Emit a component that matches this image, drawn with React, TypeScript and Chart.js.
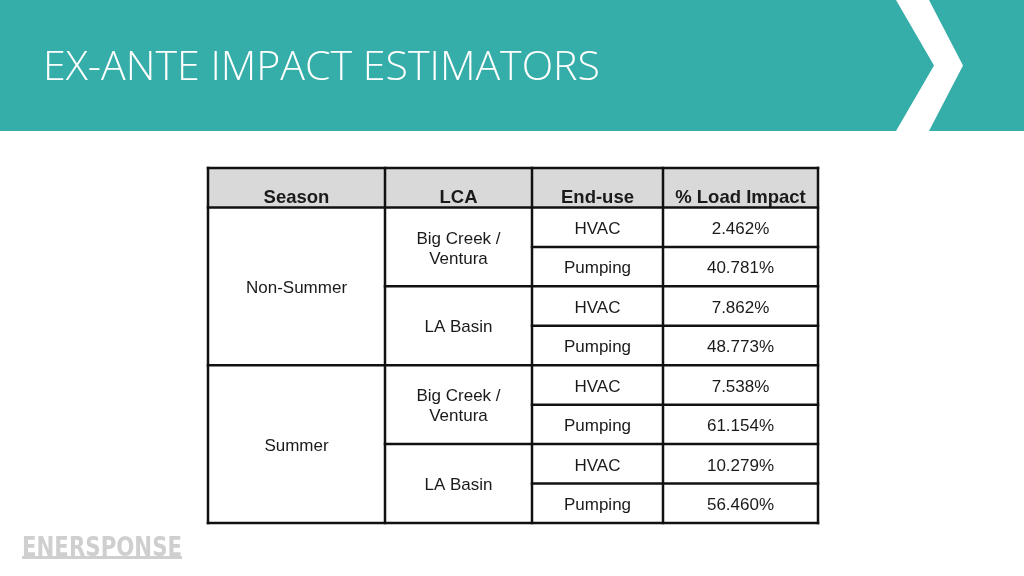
import React, { useEffect, useRef } from "react";
import { Chart, registerables } from "chart.js";

Chart.register(...registerables);

// ---- data ----
const title = "EX-ANTE IMPACT ESTIMATORS";
const logoText = "ENERSPONSE";
const headers = ["Season", "LCA", "End-use", "% Load Impact"];
const seasons = ["Non-Summer", "Summer"];
const lcas = [["Big Creek /", "Ventura"], ["LA Basin"]];
const endUses = ["HVAC", "Pumping"];
const loadImpact = [2.462, 40.781, 7.862, 48.773, 7.538, 61.154, 10.279, 56.46];

// ---- layout (scale units) ----
const COL_EDGES = [0, 177, 324, 455, 610];
const ROWS = 1 + loadImpact.length;

const TEAL = "#35ADA8";
const LINE = "#111111";
const TEXT = "#1a1a1a";
const FONT = "'Liberation Sans', Arial, sans-serif";
const TEXT_DY = 2;

const tablePlugin = {
  id: "tablePlugin",
  beforeDraw(chart: any) {
    const ctx: CanvasRenderingContext2D = chart.ctx;
    const W = chart.width;
    ctx.save();
    ctx.fillStyle = "#ffffff";
    ctx.fillRect(0, 0, W, chart.height);
    // banner
    ctx.fillStyle = TEAL;
    ctx.fillRect(0, 0, W, 131);
    // chevron
    ctx.fillStyle = "#ffffff";
    ctx.beginPath();
    ctx.moveTo(896, 0);
    ctx.lineTo(929, 0);
    ctx.lineTo(963, 65.5);
    ctx.lineTo(929, 131);
    ctx.lineTo(896, 131);
    ctx.lineTo(934, 65.5);
    ctx.closePath();
    ctx.fill();
    // title
    ctx.fillStyle = "#ffffff";
    ctx.font = "300 40px 'Open Sans', sans-serif";
    ctx.textBaseline = "alphabetic";
    ctx.textAlign = "left";
    const tw = ctx.measureText(title).width;
    ctx.save();
    ctx.translate(43, 80);
    ctx.scale(557 / tw, 1);
    ctx.fillText(title, 0, 0);
    ctx.restore();
    // logo
    ctx.fillStyle = "#cfcfcf";
    ctx.font = "bold 28px 'DejaVu Sans Condensed', sans-serif";
    const lw = ctx.measureText(logoText).width;
    ctx.save();
    ctx.translate(22, 556);
    ctx.scale(160 / lw, 0.95);
    ctx.fillText(logoText, 0, 0);
    ctx.restore();
    ctx.fillRect(22, 556, 160, 3);
    ctx.restore();
  },
  afterDatasetsDraw(chart: any) {
    const ctx: CanvasRenderingContext2D = chart.ctx;
    const xs = chart.scales.x;
    const ys = chart.scales.y;
    const X = (v: number) => xs.getPixelForValue(v);
    const Y = (v: number) => ys.getPixelForValue(v);
    const colC = (i: number) => X((COL_EDGES[i] + COL_EDGES[i + 1]) / 2);
    ctx.save();
    // header background
    ctx.fillStyle = "#d9d9d9";
    ctx.fillRect(X(COL_EDGES[0]), Y(0), X(COL_EDGES[4]) - X(COL_EDGES[0]), Y(1) - Y(0));

    // text
    ctx.fillStyle = TEXT;
    ctx.textAlign = "center";
    ctx.textBaseline = "middle";
    ctx.font = `bold 18.5px ${FONT}`;
    headers.forEach((h, i) => ctx.fillText(h, colC(i), Y(0.72) + TEXT_DY));

    ctx.font = `17px ${FONT}`;
    const n = loadImpact.length;
    const perSeason = n / seasons.length;
    seasons.forEach((s, si) => {
      ctx.fillText(s, colC(0), Y(1 + si * perSeason + perSeason / 2) + TEXT_DY);
    });
    const perLca = 2;
    for (let g = 0; g < n / perLca; g++) {
      const lines = lcas[g % lcas.length];
      const cy = Y(1 + g * perLca + perLca / 2) + TEXT_DY;
      const lh = 20;
      lines.forEach((ln, li) => {
        ctx.fillText(ln, colC(1), cy + (li - (lines.length - 1) / 2) * lh);
      });
    }
    loadImpact.forEach((v, i) => {
      const cy = Y(1 + i + 0.5) + TEXT_DY;
      ctx.fillText(endUses[i % endUses.length], colC(2), cy);
      ctx.fillText(v.toFixed(3) + "%", colC(3), cy);
    });

    // grid lines
    ctx.strokeStyle = LINE;
    ctx.lineWidth = 2.5;
    ctx.lineCap = "square";
    const hline = (r: number, c0: number, c1: number) => {
      ctx.beginPath();
      ctx.moveTo(X(COL_EDGES[c0]), Y(r));
      ctx.lineTo(X(COL_EDGES[c1]), Y(r));
      ctx.stroke();
    };
    const vline = (c: number) => {
      ctx.beginPath();
      ctx.moveTo(X(COL_EDGES[c]), Y(0));
      ctx.lineTo(X(COL_EDGES[c]), Y(ROWS));
      ctx.stroke();
    };
    hline(0, 0, 4);
    hline(1, 0, 4);
    hline(ROWS, 0, 4);
    for (let r = 2; r < ROWS; r++) {
      if ((r - 1) % perSeason === 0) hline(r, 0, 4);
      else if ((r - 1) % perLca === 0) hline(r, 1, 4);
      else hline(r, 2, 4);
    }
    for (let c = 0; c < COL_EDGES.length; c++) vline(c);
    ctx.restore();
  },
};

export default function App() {
  const ref = useRef<HTMLCanvasElement | null>(null);
  useEffect(() => {
    document.body.style.margin = "0";
    const canvas = ref.current;
    if (!canvas) return;
    const points = loadImpact.map((v, i) => ({ x: (COL_EDGES[3] + COL_EDGES[4]) / 2, y: 1.5 + i }));
    const chart = new Chart(canvas, {
      type: "scatter",
      data: {
        datasets: [
          {
            label: "% Load Impact",
            data: points,
            pointRadius: 0,
            pointHoverRadius: 0,
          },
        ],
      },
      options: {
        animation: false,
        responsive: false,
        devicePixelRatio: 1,
        layout: { padding: { left: 208, right: 206, top: 168, bottom: 53 } },
        scales: {
          x: { type: "linear", min: 0, max: 610, display: false },
          y: { type: "linear", min: 0, max: ROWS, reverse: true, display: false },
        },
        plugins: { legend: { display: false }, tooltip: { enabled: false }, title: { display: false } },
      },
      plugins: [tablePlugin],
    } as any);
    return () => chart.destroy();
  }, []);
  return (
    <div style={{ position: "fixed", left: 0, top: 0, width: 1024, height: 576 }}>
      <canvas ref={ref} width={1024} height={576} style={{ display: "block", width: 1024, height: 576 }} />
    </div>
  );
}
